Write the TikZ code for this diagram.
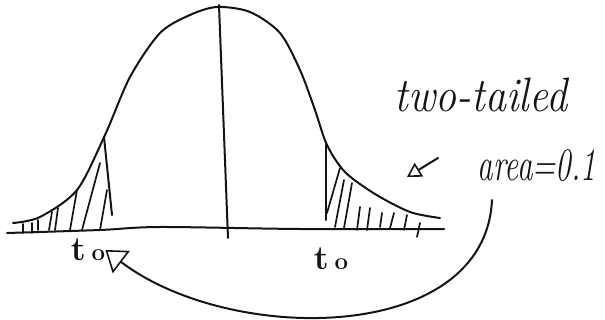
\documentclass[tikz,border=0pt]{standalone}
\usepackage{tikz}
\usetikzlibrary{positioning,arrows.meta}
\definecolor{ink}{HTML}{141414}
\tikzset{
  >=Stealth,
  % --- strokes
  curve/.style = {draw=ink, line width=2pt, line cap=round, line join=round},
  hatch/.style = {draw=ink, line width=1.7pt, line cap=round},
  conn/.style  = {curve, -{Triangle[open, length=20pt, width=28pt, line width=1.6pt]}},
  pointer/.style = {curve, -{Triangle[open, length=14pt, width=16pt, line width=1.6pt]}},
  % --- texts
  hand/.style  = {text=ink, inner sep=0pt},
  tlbl/.style  = {font=\fontsize{34}{36}\selectfont, text=ink, inner sep=0pt},
}
\newcommand{\tnought}{t\kern6pt{\fontsize{24}{24}\selectfont o}}
\begin{document}
\begin{tikzpicture}[x=1pt, y=-1pt]
  \useasboundingbox (0,0) rectangle (605,320);

  % the bell
  \draw[curve] plot[smooth] coordinates {
    (13,223) (40,217) (77,190) (105,135) (130,77) (160,33) (190,15)
    (217,7) (250,12) (280,33) (300,70) (315,110) (327,145) (345,172)
    (375,194) (410,212) (440,218)};
  % axis and middle
  \draw[curve] plot[smooth] coordinates {(7,233) (100,230) (160,227) (300,229) (444,229)};
  \draw[curve] (219,5) -- (228,238);

  % cut-offs
  \draw[curve] (104,137) -- (112,215);
  \draw[curve] (326,143) -- (326,220);
  \draw[hatch] (340,168) -- (327,213);

  % shading, left tail
  \foreach \a/\b/\c/\d in {100/163/82/230, 107/190/100/230, 77/190/70/230,
                           58/208/55/230, 52/212/49/230, 38/220/38/230,
                           32/223/32/233, 23/224/23/233}
    \draw[hatch] (\a,\b) -- (\c,\d);
  % shading, right tail
  \foreach \a/\b/\c/\d in {344/180/335/227, 352/183/344/228, 360/207/357/230,
                           370/208/367/230, 382/213/380/227, 394/213/390/228,
                           407/215/404/230, 420/223/417/237}
    \draw[hatch] (\a,\b) -- (\c,\d);

  % labels
  \node[tlbl] (tl) at (88,250) {\bfseries\tnought};
  \node[tlbl] (tr) at (331,259) {\bfseries\tnought};
  \node[hand, font=\fontsize{42}{44}\selectfont\itshape, yscale=1.15] (tw) at (481,95) {two-tailed};
  \node[hand, font=\fontsize{31}{33}\selectfont\itshape, yscale=1.5] (ar) at (537,166) {area=0.1};

  % pointers
  \coordinate (p0) at (438,158);
  \coordinate (p1) at (407,177);
  \draw[pointer] (p0) -- (p1);
  \coordinate (c0) at (492,200);
  \draw[conn] (c0) .. controls (485,345) and (230,345) .. (tl.east);
\end{tikzpicture}
\end{document}
